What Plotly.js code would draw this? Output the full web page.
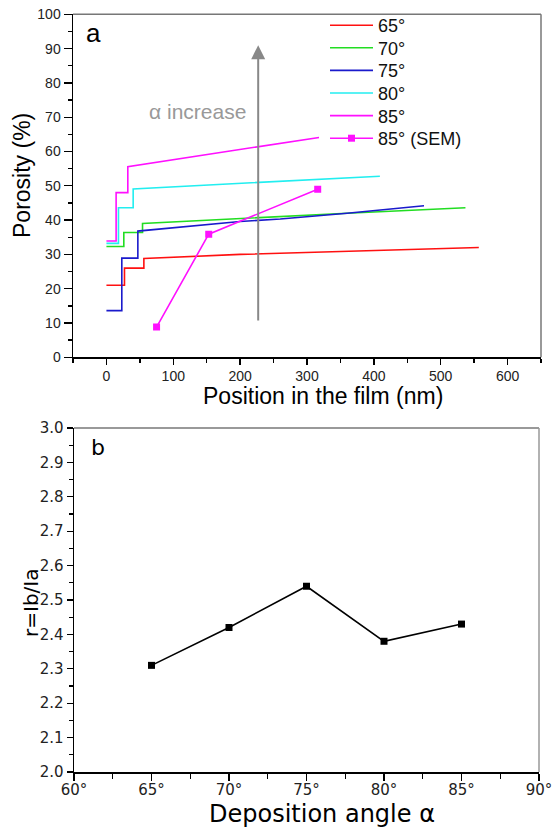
<!DOCTYPE html>
<html>
<head>
<meta charset="utf-8">
<script src="https://cdn.plot.ly/plotly-3.0.1.min.js"></script>
<style>html,body{margin:0;padding:0;background:#fff;}#chart{width:557px;height:831px;}</style>
</head>
<body>
<div id="chart"></div>
<script>
// ---- Panel a: porosity profiles (position nm, porosity %) ----
const pos65 = [0, 27, 27, 56, 56, 200, 557];
const por65 = [21, 21, 26, 26, 28.8, 30.0, 32.0];
const pos70 = [0, 26, 26, 54, 54, 200, 360, 537];
const por70 = [32.3, 32.3, 36.4, 36.4, 39.0, 40.5, 42.0, 43.6];
const pos75 = [0, 23, 23, 47, 47, 200, 260, 360, 475];
const por75 = [13.6, 13.6, 28.9, 28.9, 36.8, 39.6, 40.3, 42.0, 44.2];
const pos80 = [0, 18, 18, 40, 40, 409];
const por80 = [33.2, 33.2, 43.6, 43.6, 49.1, 52.8];
const pos85 = [0, 14.5, 14.5, 32, 32, 229, 318];
const por85 = [33.9, 33.9, 48.0, 48.0, 55.6, 61.4, 64.1];
const posSEM = [75, 153, 316];
const porSEM = [8.8, 35.9, 49.0];
const seriesNames = ['65°', '70°', '75°', '80°', '85°', '85° (SEM)'];

// ---- Panel b: intensity ratio vs deposition angle ----
const angles = [65, 70, 75, 80, 85];
const ratio = [2.31, 2.42, 2.54, 2.38, 2.43];

const W = 557, H = 831;
const fa = 'Liberation Sans, Arial, sans-serif';
const fb = 'DejaVu Sans, Verdana, sans-serif';
const colors = ['#ff1010', '#22dd22', '#1a1acc', '#22eef0', '#ff10ff', '#ff10ff'];
const legIds = ['legend', 'legend2', 'legend3', 'legend4', 'legend5', 'legend6'];

function line(x, y, i) {
  return {x: x, y: y, type: 'scatter', mode: 'lines', name: seriesNames[i], legend: legIds[i],
    line: {color: colors[i], width: 1.6}, xaxis: 'x', yaxis: 'y'};
}
const traces = [
  line(pos65, por65, 0), line(pos70, por70, 1), line(pos75, por75, 2),
  line(pos80, por80, 3), line(pos85, por85, 4),
  {x: posSEM, y: porSEM, type: 'scatter', mode: 'lines+markers', name: seriesNames[5], legend: legIds[5],
   line: {color: colors[5], width: 1.6}, marker: {symbol: 'square', size: 7, color: colors[5]},
   xaxis: 'x', yaxis: 'y'},
  {x: angles, y: ratio, type: 'scatter', mode: 'lines+markers', showlegend: false,
   line: {color: '#000', width: 1.6}, marker: {symbol: 'square', size: 7, color: '#000'},
   xaxis: 'x2', yaxis: 'y2'}
];

const axA = {showline: true, linecolor: '#000', linewidth: 1.5, ticks: 'outside', tickcolor: '#000',
  tickwidth: 1.3, showgrid: false, zeroline: false, fixedrange: true};

function ann(x, y, text, font, extra) {
  return Object.assign({xref: 'paper', yref: 'paper', x: x / W, y: 1 - y / H, text: text,
    showarrow: false, xanchor: 'center', yanchor: 'middle', font: font}, extra || {});
}

const layout = {
  width: W, height: H, margin: {l: 0, r: 0, t: 0, b: 0},
  paper_bgcolor: '#fff', plot_bgcolor: '#fff', showlegend: true,
  xaxis: Object.assign({}, axA, {domain: [73/W, 541/W], range: [-50, 650], tick0: 0, dtick: 100,
    ticklen: 6, ticklabelstandoff: -1, tickfont: {family: fa, size: 14, color: '#222'},
    minor: {dtick: 50, ticklen: 4, ticks: 'outside', tickcolor: '#000', tickwidth: 1.3}, anchor: 'y'}),
  yaxis: Object.assign({}, axA, {domain: [1 - 357.3/H, 1 - 14.3/H], range: [0, 100], dtick: 10,
    ticklen: 8, tickfont: {family: fa, size: 14, color: '#222'},
    minor: {dtick: 5, ticklen: 4, ticks: 'outside', tickcolor: '#000', tickwidth: 1.3}, anchor: 'x'}),
  xaxis2: Object.assign({}, axA, {domain: [74/W, 539/W], range: [60, 90], dtick: 5, ticksuffix: '°',
    ticklen: 7, ticklabelstandoff: -4, tickfont: {family: fb, size: 15, color: '#222'},
    minor: {dtick: 2.5, ticklen: 5, ticks: 'outside', tickcolor: '#000', tickwidth: 1.3}, anchor: 'y2'}),
  yaxis2: Object.assign({}, axA, {domain: [1 - 772/H, 1 - 428/H], range: [2, 3], dtick: 0.1, tickformat: '.1f',
    ticklen: 6, tickfont: {family: fb, size: 15, color: '#222'},
    minor: {dtick: 0.05, ticklen: 4, ticks: 'outside', tickcolor: '#000', tickwidth: 1.3}, anchor: 'x2'}),
  shapes: [
    {type: 'line', xref: 'x domain', yref: 'y domain', x0: 0, x1: 1, y0: 1, y1: 1, line: {color: '#777', width: 1.5}},
    {type: 'line', xref: 'x domain', yref: 'y domain', x0: 1, x1: 1, y0: 0, y1: 1, line: {color: '#777', width: 1.5}},
    {type: 'line', xref: 'x2 domain', yref: 'y2 domain', x0: 0, x1: 1, y0: 1, y1: 1, line: {color: '#777', width: 1.5}},
    {type: 'line', xref: 'x2 domain', yref: 'y2 domain', x0: 1, x1: 1, y0: 0, y1: 1, line: {color: '#999', width: 1.5}}
  ],
  annotations: [
    {xref: 'x', yref: 'y', x: 227, y: 91, ax: 227, ay: 10.3, axref: 'x', ayref: 'y', showarrow: true,
     arrowhead: 2, arrowsize: 1.4, arrowwidth: 2, arrowcolor: '#888', text: ''},
    {xref: 'x', yref: 'y', x: 135.5, y: 71.8, text: 'α increase', showarrow: false,
     font: {family: fa, size: 21, color: '#999'}},
    ann(93, 33, 'a', {family: fa, size: 26, color: '#000'}),
    ann(98, 448, 'b', {family: fb, size: 22, color: '#000'}),
    ann(323, 396, 'Position in the film (nm)', {family: fa, size: 23, color: '#000'}),
    ann(22, 176, 'Porosity (%)', {family: fa, size: 23, color: '#000'}, {textangle: -90}),
    ann(322, 814, 'Deposition angle α', {family: fb, size: 24, color: '#000'}),
    ann(31, 603, 'r=Ib/Ia', {family: fb, size: 20, color: '#000'}, {textangle: -90})
  ]
};

const legMids = [25.5, 48.1, 70.7, 93.3, 115.9, 138.5];
legIds.forEach(function (id, i) {
  layout[id] = {x: 325/W, xanchor: 'left', y: 1 - legMids[i]/H, yanchor: 'middle', bgcolor: 'rgba(0,0,0,0)',
    itemwidth: 43, font: {family: fa, size: 18, color: '#111'}};
});

Plotly.newPlot('chart', traces, layout, {staticPlot: true, displayModeBar: false});
</script>
</body>
</html>
